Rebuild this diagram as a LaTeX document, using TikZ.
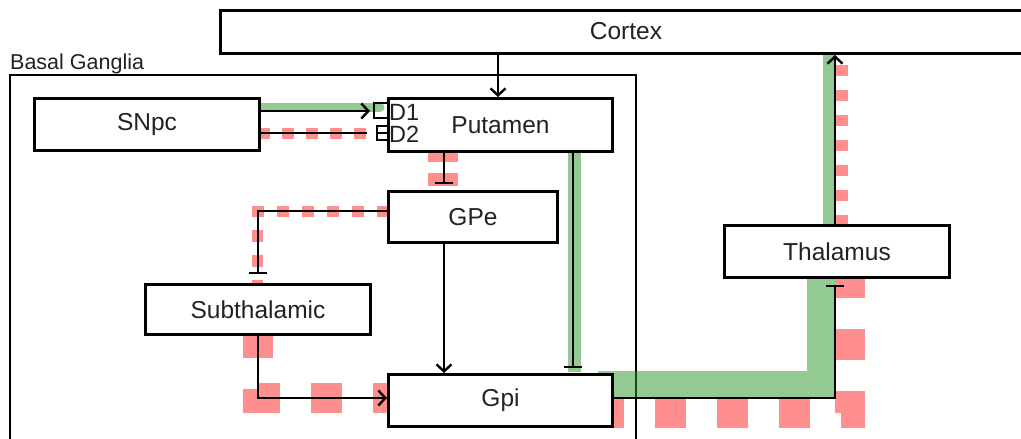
\documentclass[tikz,border=0pt]{standalone}
\usepackage{fontspec}
\setmainfont{Liberation Sans}
\usetikzlibrary{arrows.meta}
\definecolor{hlgreen}{RGB}{40,150,40}
\definecolor{hlred}{RGB}{255,30,30}
\definecolor{txt}{RGB}{34,34,34}
\begin{document}
\begin{tikzpicture}[x=1pt,y=-1pt,
  box/.style={draw=black,line width=3pt,fill=white,inner sep=0pt,text=txt,font=\fontsize{24.5}{26}\selectfont},
  conn/.style={draw=black,line width=2.4pt},
  arr/.style={conn,-{Straight Barb[length=7pt,width=15pt,line width=2.4pt]}},
  tee/.style={conn,-{Bar[width=18pt,line width=2.4pt]}},
  gthin/.style={draw=hlgreen,draw opacity=0.5},
  rdash/.style={draw=hlred,draw opacity=0.5}]
\useasboundingbox (0,0) rectangle (1021,439);
% Basal ganglia frame
\draw[line width=2.8pt] (10,75) rectangle (636,445);
\node[anchor=base west,inner sep=0pt,text=txt,font=\fontsize{21.5}{23}\selectfont] (bglabel) at (10,69) {Basal Ganglia};
% highlights
\draw[gthin,line width=9pt,line cap=round] (262,107) -- (380,107);
\draw[rdash,line width=11pt,dash pattern=on 12pt off 12pt] (258,133) -- (367,133);
\draw[rdash,line width=30pt,dash pattern=on 14pt off 11pt] (443,148) -- (443,186);
\draw[rdash,line width=11pt,dash pattern=on 12pt off 13pt] (389,211) -- (257.5,211) -- (257.5,290);
\draw[rdash,line width=30pt,dash pattern=on 31pt off 31pt] (258,327) -- (258,398) -- (395,398);
\draw[gthin,line width=13pt] (574.5,150) -- (574.5,372);
\draw[gthin,line width=28pt] (598,385) -- (821,385) -- (821,270);
\draw[rdash,line width=30pt,dash pattern=on 31pt off 31pt] (593,412.5) -- (850,412.5) -- (850,270);
\draw[gthin,line width=12pt] (829,230) -- (829,52);
\draw[rdash,line width=13pt,dash pattern=on 11pt off 14pt] (841.5,226) -- (841.5,60);
% boxes
\node[box,minimum width=813pt,minimum height=43pt,anchor=north west] (cortex) at (219,9) {};
\node[text=txt,font=\fontsize{24.5}{26}\selectfont,inner sep=0pt] (cortexlbl) at (626,31) {Cortex};
\node[box,minimum width=225pt,minimum height=52pt,anchor=north west] (snpc) at (33,97) {SNpc};
\node[box,minimum width=224pt,minimum height=53pt,anchor=north west] (putamen) at (387,97) {Putamen};
\node[box,minimum width=169pt,minimum height=51pt,anchor=north west] (gpe) at (387,190) {GPe};
\node[box,minimum width=225pt,minimum height=50pt,anchor=north west] (subth) at (144,283) {Subthalamic};
\node[box,minimum width=224pt,minimum height=52pt,anchor=north west] (gpi) at (387,373) {Gpi};
\node[box,minimum width=225pt,minimum height=52pt,anchor=north west] (thal) at (723,224) {Thalamus};
\node[anchor=west,inner sep=0pt,text=txt,font=\fontsize{23.5}{24}\selectfont] (d1) at (389,112) {D1};
\node[anchor=west,inner sep=0pt,text=txt,font=\fontsize{23.5}{24}\selectfont] (d2) at (389,134) {D2};
% connectors
\draw[arr] (cortex.south -| 498,0) -- (putamen.north -| 498,0);
\draw[arr] (snpc.east |- 0,111) -- (370,111);
\draw[conn] (387,103) -- (374,103) -- (374,118) -- (387,118);
\draw[conn] (snpc.east |- 0,133) -- (367,133);
\draw[conn] (387,126) -- (377,126) -- (377,140) -- (387,140);
\draw[conn] (377,133) -- (387,133);
\draw[tee] (putamen.south -| 444,0) -- (444,184);
\draw[tee] (gpe.west |- 0,211) -- (258,211) -- (258,274);
\draw[arr] (gpe.south -| 444,0) -- (gpi.north -| 444,0);
\draw[arr] (subth.south -| 258,0) -- (258,398) -- (gpi.west |- 0,398);
\draw[tee] (putamen.south -| 573,0) -- (573,368);
\draw[tee] (gpi.east |- 0,398) -- (835,398) -- (835,285);
\draw[arr] (thal.north -| 835,0) -- (cortex.south -| 835,0);
\end{tikzpicture}
\end{document}
